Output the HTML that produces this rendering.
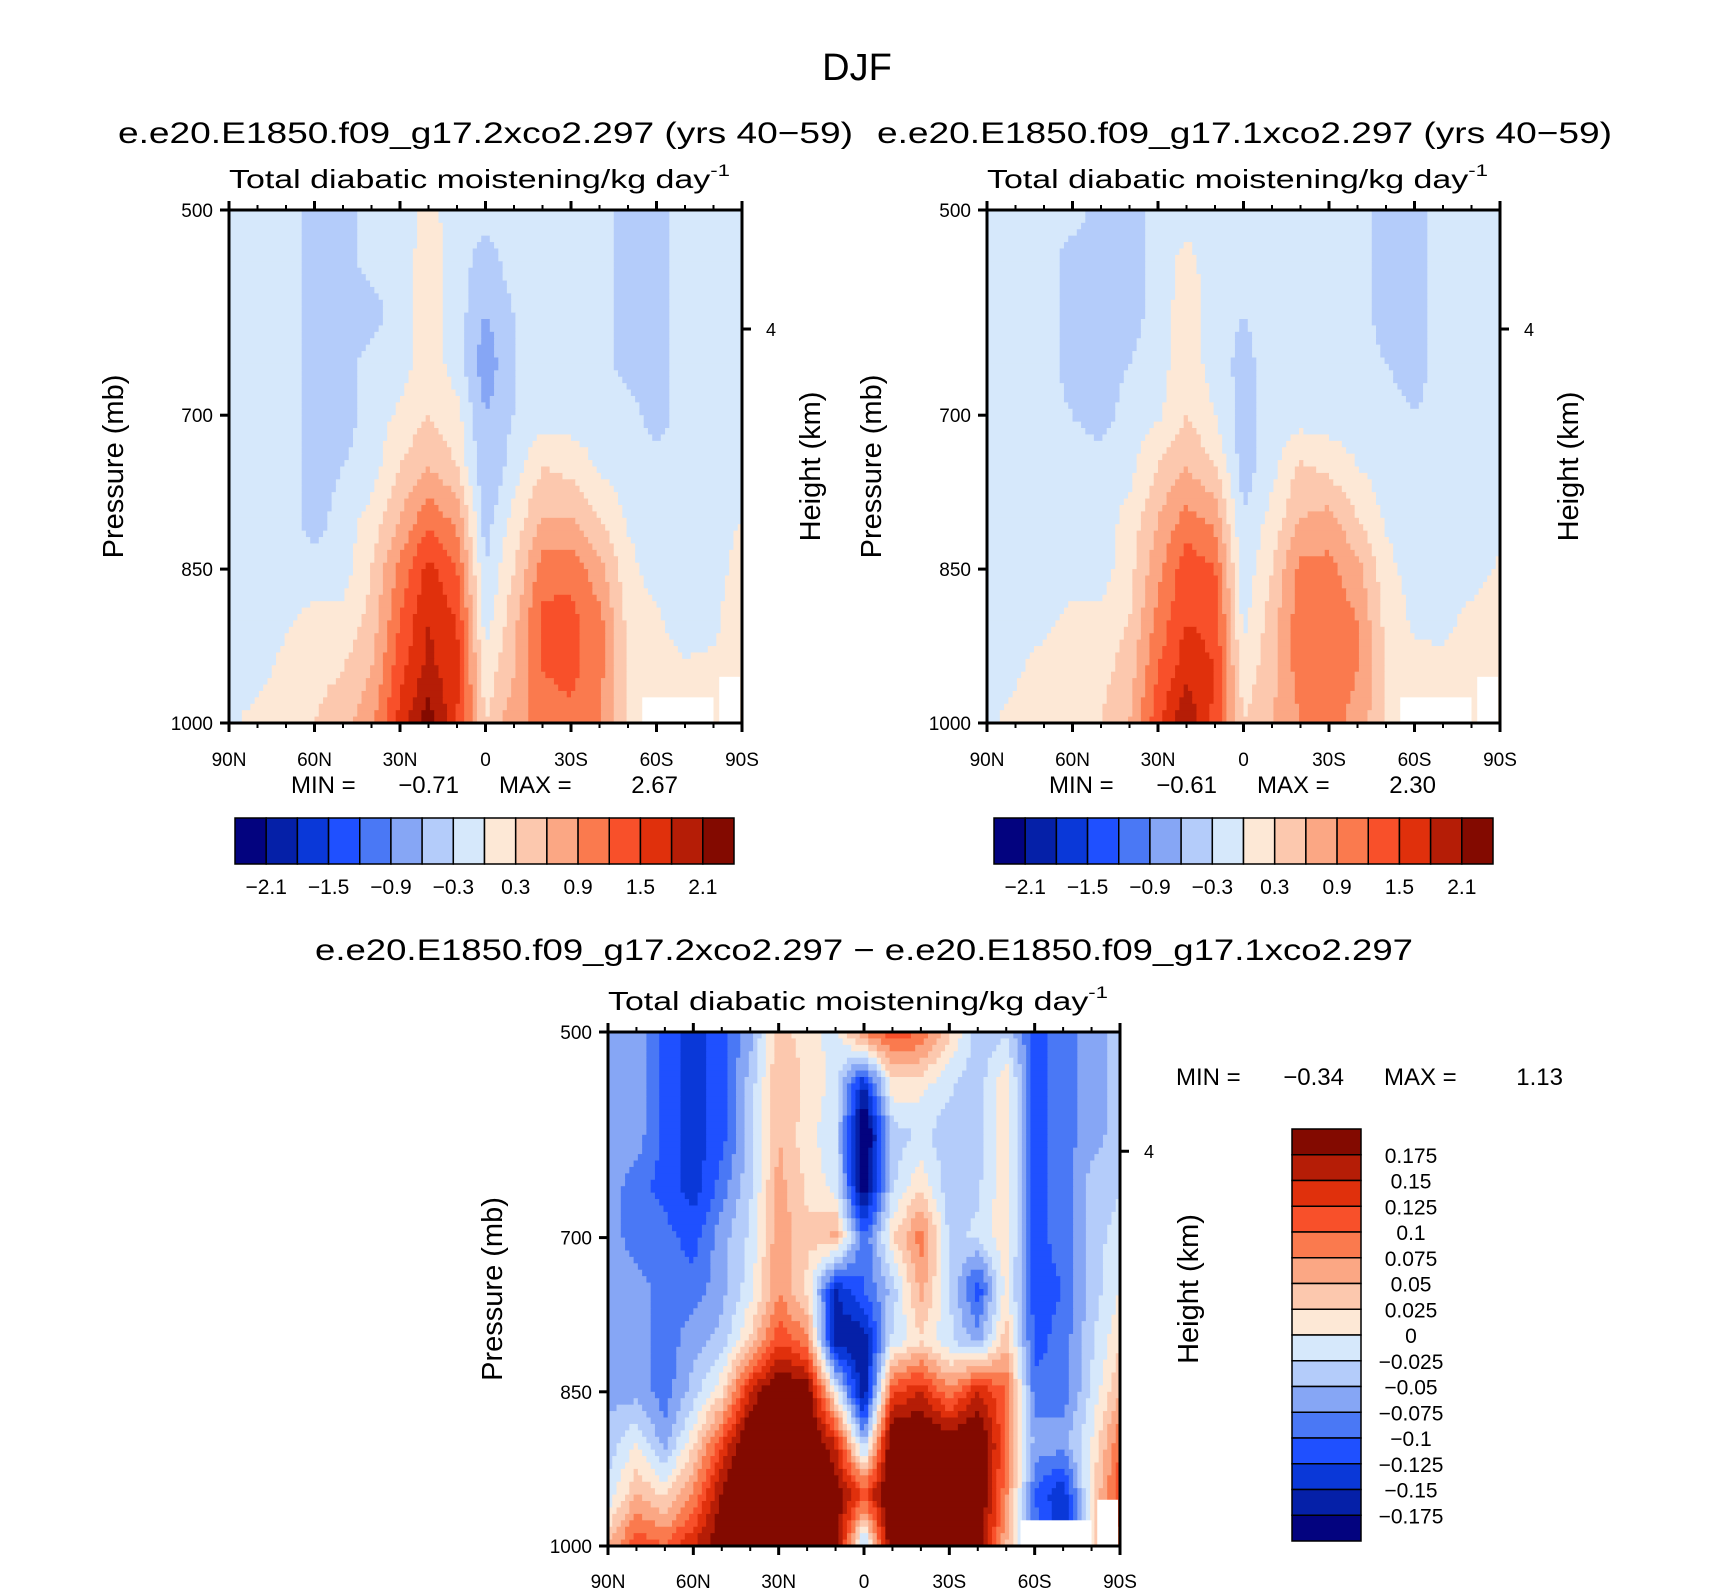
<!DOCTYPE html>
<html><head><meta charset="utf-8"><style>
html,body{margin:0;padding:0;background:#fff}
svg{display:block;font-family:"Liberation Sans",sans-serif}
</style></head><body>
<svg id="chart" width="1710" height="1590" viewBox="0 0 1710 1590" xmlns="http://www.w3.org/2000/svg">
<text x="857" y="80" font-size="38" text-anchor="middle">DJF</text>
</svg>
<script>
// ---- data ----
const lats = [90,80,70,60,50,40,30,20,10,0,-10,-20,-30,-40,-50,-60,-70,-80,-90];
const pressures = [500,550,600,650,700,750,800,850,900,950,1000];
const xTickLabels = ["90N","60N","30N","0","30S","60S","90S"];
const yTickValues = [500,700,850,1000];
const levelsTop = [-2.1,-1.8,-1.5,-1.2,-0.9,-0.6,-0.3,0,0.3,0.6,0.9,1.2,1.5,1.8,2.1];
const levelsTopLabels = ["-2.1","-1.5","-0.9","-0.3","0.3","0.9","1.5","2.1"];
const levelsDiff = [-0.175,-0.15,-0.125,-0.1,-0.075,-0.05,-0.025,0,0.025,0.05,0.075,0.1,0.125,0.15,0.175];
const levelsDiffLabels = ["-0.175","-0.15","-0.125","-0.1","-0.075","-0.05","-0.025","0","0.025","0.05","0.075","0.1","0.125","0.15","0.175"];
const palette = ["#03037f","#0520a8","#0a38d8","#1f50ff","#4a78f5","#86a6f5","#b4ccfa","#d6e8fb","#fde8d6","#fcc8ae","#fba784","#fa7a4e","#f8502a","#e0300c","#b51d06","#830a00"];
const minMax1 = ["-0.71","2.67"];
const minMax2 = ["-0.61","2.30"];
const minMax3 = ["-0.34","1.13"];
const field1 = [
[-.15,-.15,-.15,-.45,-.45,-.15,-.15,.1,-.15,-.15,-.15,-.15,-.15,-.15,-.45,-.45,-.15,-.15,-.15],
[-.15,-.15,-.15,-.45,-.45,-.15,-.15,.15,-.15,-.45,-.15,-.15,-.15,-.15,-.45,-.45,-.15,-.15,-.15],
[-.15,-.15,-.15,-.45,-.45,-.45,-.15,.15,-.15,-.6,-.3,-.15,-.15,-.15,-.45,-.45,-.15,-.15,-.15],
[-.15,-.15,-.15,-.45,-.45,-.15,-.15,.2,-.15,-.8,-.3,-.15,-.15,-.15,-.45,-.45,-.15,-.15,-.15],
[-.15,-.15,-.15,-.45,-.45,-.15,.05,.3,.1,-.6,-.3,-.15,-.15,-.15,-.15,-.45,-.15,-.15,-.15],
[-.15,-.15,-.15,-.45,-.3,-.15,.3,.6,.3,-.6,-.15,.3,.2,-.05,-.15,-.15,-.15,-.15,-.1],
[-.15,-.15,-.15,-.45,-.15,.1,.6,1.1,.8,-.45,.1,.6,.6,.3,-.05,-.15,-.15,-.15,0],
[-.15,-.15,-.15,-.15,-.15,.3,1.0,1.6,1.2,-.3,.3,1.05,1.1,.7,.1,-.15,-.15,-.15,.15],
[-.15,-.15,-.05,.1,.1,.4,1.2,1.8,1.5,-.15,.5,1.3,1.3,1.0,.2,.05,-.15,-.1,.3],
[-.15,-.1,.1,.2,.3,.6,1.4,1.9,1.6,.1,.6,1.2,1.3,1.0,.3,.1,.05,.1,.2],
[-.05,.1,.2,.3,.5,.8,1.6,2.3,1.5,.3,.8,1.0,1.1,.9,.3,.1,.1,.15,.2]];
const field2 = [
[-.15,-.15,-.15,-.15,-.45,-.45,-.15,-.15,-.15,-.15,-.15,-.15,-.15,-.15,-.45,-.45,-.15,-.15,-.15],
[-.15,-.15,-.15,-.45,-.45,-.45,-.15,.1,-.15,-.15,-.15,-.15,-.15,-.15,-.45,-.45,-.15,-.15,-.15],
[-.15,-.15,-.15,-.45,-.45,-.45,-.15,.15,-.15,-.3,-.15,-.15,-.15,-.15,-.45,-.45,-.15,-.15,-.15],
[-.15,-.15,-.15,-.45,-.45,-.3,-.15,.2,-.15,-.4,-.15,-.15,-.15,-.15,-.3,-.45,-.15,-.15,-.15],
[-.15,-.15,-.15,-.3,-.45,-.15,-.05,.3,0,-.45,-.15,-.15,-.15,-.15,-.15,-.3,-.15,-.15,-.15],
[-.15,-.15,-.15,-.15,-.15,-.1,.3,.6,.3,-.45,-.1,.35,.2,0,-.15,-.15,-.15,-.15,-.15],
[-.15,-.15,-.15,-.15,-.15,.1,.6,1.0,.8,-.3,.1,.6,.7,.3,-.05,-.15,-.15,-.15,-.15],
[-.15,-.15,-.15,-.15,-.15,.2,.8,1.4,1.2,-.2,.3,1.0,1.0,.7,.1,-.15,-.15,-.15,.05],
[-.15,-.15,-.1,.1,.1,.3,1.0,1.5,1.4,-.1,.45,1.1,1.1,.9,.2,-.05,-.1,.1,.15],
[-.15,-.05,.15,.2,.2,.45,1.2,1.7,1.5,.1,.5,1.05,1.1,.9,.3,.1,.1,.2,.2],
[-.05,.1,.25,.2,.3,.6,1.4,2.1,1.4,.3,.6,.9,1.0,.8,.3,.2,.15,.2,.2]];
const field3 = [
[-.06,-.06,-.11,-.14,-.11,-.06,.04,.01,-.01,.08,.12,.1,.03,-.04,-.03,-.11,-.09,-.06,-.04],
[-.06,-.06,-.11,-.14,-.11,-.04,.05,.02,-.01,-.15,.02,.01,-.02,-.04,.02,-.11,-.09,-.06,-.04],
[-.06,-.06,-.11,-.14,-.11,-.04,.05,.01,-.02,-.22,-.04,-.02,-.04,-.04,.02,-.11,-.09,-.06,-.04],
[-.06,-.09,-.11,-.14,-.09,-.03,.06,.02,-.01,-.2,-.03,.02,-.04,-.03,.02,-.11,-.09,-.04,-.03],
[-.06,-.09,-.09,-.11,-.06,-.02,.07,.03,.06,-.1,.02,.09,-.03,-.02,.02,-.11,-.09,-.04,-.01],
[-.06,-.06,-.09,-.09,-.06,-.01,.07,.02,-.15,-.1,-.04,.06,-.02,-.12,.01,-.11,-.1,-.04,0],
[-.06,-.06,-.09,-.06,-.04,.03,.12,.08,-.17,-.17,-.02,.02,-.02,-.06,.04,-.11,-.09,-.03,.02],
[-.06,-.06,-.09,-.04,.02,.15,.22,.2,0,-.18,.12,.15,.08,.15,.1,-.09,-.09,-.02,.05],
[-.04,0,-.06,.02,.12,.22,.25,.22,.15,-.05,.22,.22,.2,.22,.1,-.06,-.06,0,.1],
[-.02,.05,.02,.08,.18,.25,.25,.22,.2,.12,.22,.22,.2,.22,.08,-.1,-.15,.02,.12],
[.05,.12,.1,.15,.2,.25,.25,.22,.2,-.05,.22,.22,.2,.2,.05,-.08,-.15,.02,.1]];

const NS = "http://www.w3.org/2000/svg";
const svg = document.getElementById('chart');
function mk(tag, attrs, parent, txt){
  const e = document.createElementNS(NS, tag);
  for (const k in attrs) e.setAttribute(k, attrs[k]);
  if (txt !== undefined) e.textContent = txt;
  (parent || svg).appendChild(e);
  return e;
}
function binIndex(v, levels){ let i=0; while(i<levels.length && v>=levels[i]) i++; return i; }
function sample(field, la, p){
  const fx = (90-la)/10, fy = (p-500)/50;
  const i0 = Math.min(17, Math.floor(fx)), j0 = Math.min(9, Math.floor(fy));
  const tx = fx-i0, ty = fy-j0;
  const a=field[j0][i0], b=field[j0][i0+1], c=field[j0+1][i0], d=field[j0+1][i0+1];
  return (a*(1-tx)+b*tx)*(1-ty)+(c*(1-tx)+d*tx)*ty;
}

function panel(cfg){
  const {x0,y0,w,h,field,levels,name} = cfg;
  const xs = la => x0 + (90-la)/180*w;
  const ys = p => y0 + (p-500)/500*h;
  const g = mk('g', {}, svg);
  
  
  const NX = 120, NY = 80;
  for (let j=0;j<NY;j++){
    const p0 = 500 + j*500/NY, p1 = 500+(j+1)*500/NY;
    let runStart = 0, runColor = null;
    for (let i=0;i<=NX;i++){
      let col = null;
      if (i<NX){
        const la = 90 - (i+0.5)*180/NX, pm=(p0+p1)/2;
        col = palette[binIndex(sample(field, la, pm), levels)];
      }
      if (col !== runColor){
        if (runColor !== null){
          const la0 = 90 - runStart*180/NX, la1 = 90 - i*180/NX;
          const r = mk('rect', {x:xs(la0), y:ys(p0), width:xs(la1)-xs(la0)+0.6, height:ys(p1)-ys(p0)+0.6, fill:runColor}, g);
          
          
        }
        runStart = i; runColor = col;
      }
    }
  }
  if (cfg.missing){
    mk('rect',{x:xs(-55),y:ys(975),width:xs(-80)-xs(-55),height:ys(1000)-ys(975),fill:'#fff'},g);
    mk('rect',{x:xs(-82),y:ys(955),width:xs(-90)-xs(-82)-2,height:ys(1000)-ys(955),fill:'#fff'},g);
  }
  const fr = mk('rect',{x:x0,y:y0,width:w,height:h,fill:'none',stroke:'#000','stroke-width':3});
  
  
  for (let la=90; la>=-90; la-=10){
    const major = la%30===0, L = major?9:5, x=xs(la);
    mk('line',{x1:x,x2:x,y1:y0+h,y2:y0+h+L,stroke:'#000','stroke-width':major?3:2});
    mk('line',{x1:x,x2:x,y1:y0,y2:y0-L,stroke:'#000','stroke-width':major?3:2});
  }
  xTickLabels.forEach((t,k)=>{
    const la = 90-k*30;
    const e = mk('text',{x:xs(la),y:y0+h+cfg.xlabOff,'font-size':19,'text-anchor':'middle'},svg,t);
    
    
  });
  yTickValues.forEach(p=>{
    const y=ys(p);
    mk('line',{x1:x0-9,x2:x0,y1:y,y2:y,stroke:'#000','stroke-width':3});
    const e = mk('text',{x:x0-16,y:y+7,'font-size':19,'text-anchor':'end'},svg,String(p));
    
    
  });
  const yk = ys(616);
  mk('line',{x1:x0+w,x2:x0+w+9,y1:yk,y2:yk,stroke:'#000','stroke-width':3});
  const k4 = mk('text',{x:x0+w+24,y:yk+7,'font-size':18,'text-anchor':'start'},svg,'4');
  
  
  const yt = mk('text',{x:0,y:0,'font-size':29,'text-anchor':'middle',transform:`translate(${x0-106},${y0+h/2}) rotate(-90)`},svg,'Pressure (mb)');
  
  
  const ht = mk('text',{x:0,y:0,'font-size':29,'text-anchor':'middle',transform:`translate(${x0+w+78},${y0+h/2}) rotate(-90)`},svg,'Height (km)');
  
  
  const st = mk('text',{x:x0,y:y0-22,'font-size':26,textLength:w-12,lengthAdjust:'spacingAndGlyphs'},svg);
  
  
  st.textContent = 'Total diabatic moistening/kg day';
  mk('tspan',{'font-size':17,dy:-12},st,'-1');
}

const W=513, H=513;
panel({x0:229,y0:210,w:W,h:H,field:field1,levels:levelsTop,name:'panel-2xco2',missing:true,xlabOff:43});
panel({x0:987,y0:210,w:W,h:H,field:field2,levels:levelsTop,name:'panel-1xco2',missing:true,xlabOff:43});
panel({x0:608,y0:1032,w:W-1,h:H+1,field:field3,levels:levelsDiff,name:'panel-difference',missing:true,xlabOff:42});

function txt(name,x,y,size,s,anchor,len){
  const a = {x:x,y:y,'font-size':size,'text-anchor':anchor||'start'};
  if (len){a.textLength=len;a.lengthAdjust='spacingAndGlyphs';}
  const e = mk('text',a,svg,s);
  
  
  return e;
}
txt('panel-title-left',118,143,30,'e.e20.E1850.f09_g17.2xco2.297 (yrs 40\u221259)','start',735);
txt('panel-title-right',877,143,30,'e.e20.E1850.f09_g17.1xco2.297 (yrs 40\u221259)','start',735);
txt('difference-title',315,960,30,'e.e20.E1850.f09_g17.2xco2.297 \u2212 e.e20.E1850.f09_g17.1xco2.297','start',1098);
function minmax(name,x,y,mm){
  txt(name+'-min-label',x,y,24,'MIN =');
  txt(name+'-min-value',x+168,y,24,mm[0].replace('-','\u2212'),'end');
  txt(name+'-max-label',x+208,y,24,'MAX =');
  txt(name+'-max-value',x+387,y,24,mm[1],'end');
}
minmax('panel1',291,793,minMax1);
minmax('panel2',1049,793,minMax2);
minmax('panel3',1176,1085,minMax3);

function hbar(name,x0,y0,w,h){
  const n=palette.length, bw=w/n;
  palette.forEach((c,i)=>{
    const r=mk('rect',{x:x0+i*bw,y:y0,width:bw,height:h,fill:c,stroke:'#000','stroke-width':1.5});
    
    
  });
  levelsTopLabels.forEach((t,k)=>{
    const bi = 1+2*k;
    txt(name+'-label',x0+bi*bw,y0+h+30,21,t.replace('-','\u2212'),'middle');
  });
}
hbar('colorbar-left',235,818,499,46);
hbar('colorbar-right',994,818,499,46);
(function(){
  const x0=1292,y0=1129,w=69,h=412,n=palette.length,bh=h/n;
  for(let i=0;i<n;i++){
    const r=mk('rect',{x:x0,y:y0+i*bh,width:w,height:bh,fill:palette[n-1-i],stroke:'#000','stroke-width':1.5});
    
    
  }
  for(let k=0;k<levelsDiffLabels.length;k++){
    const lab = levelsDiffLabels[levelsDiffLabels.length-1-k];
    txt('colorbar-diff-label',1411,y0+(k+1)*bh+8,21,lab.replace('-','\u2212'),'middle');
  }
})();
</script>
</body></html>
